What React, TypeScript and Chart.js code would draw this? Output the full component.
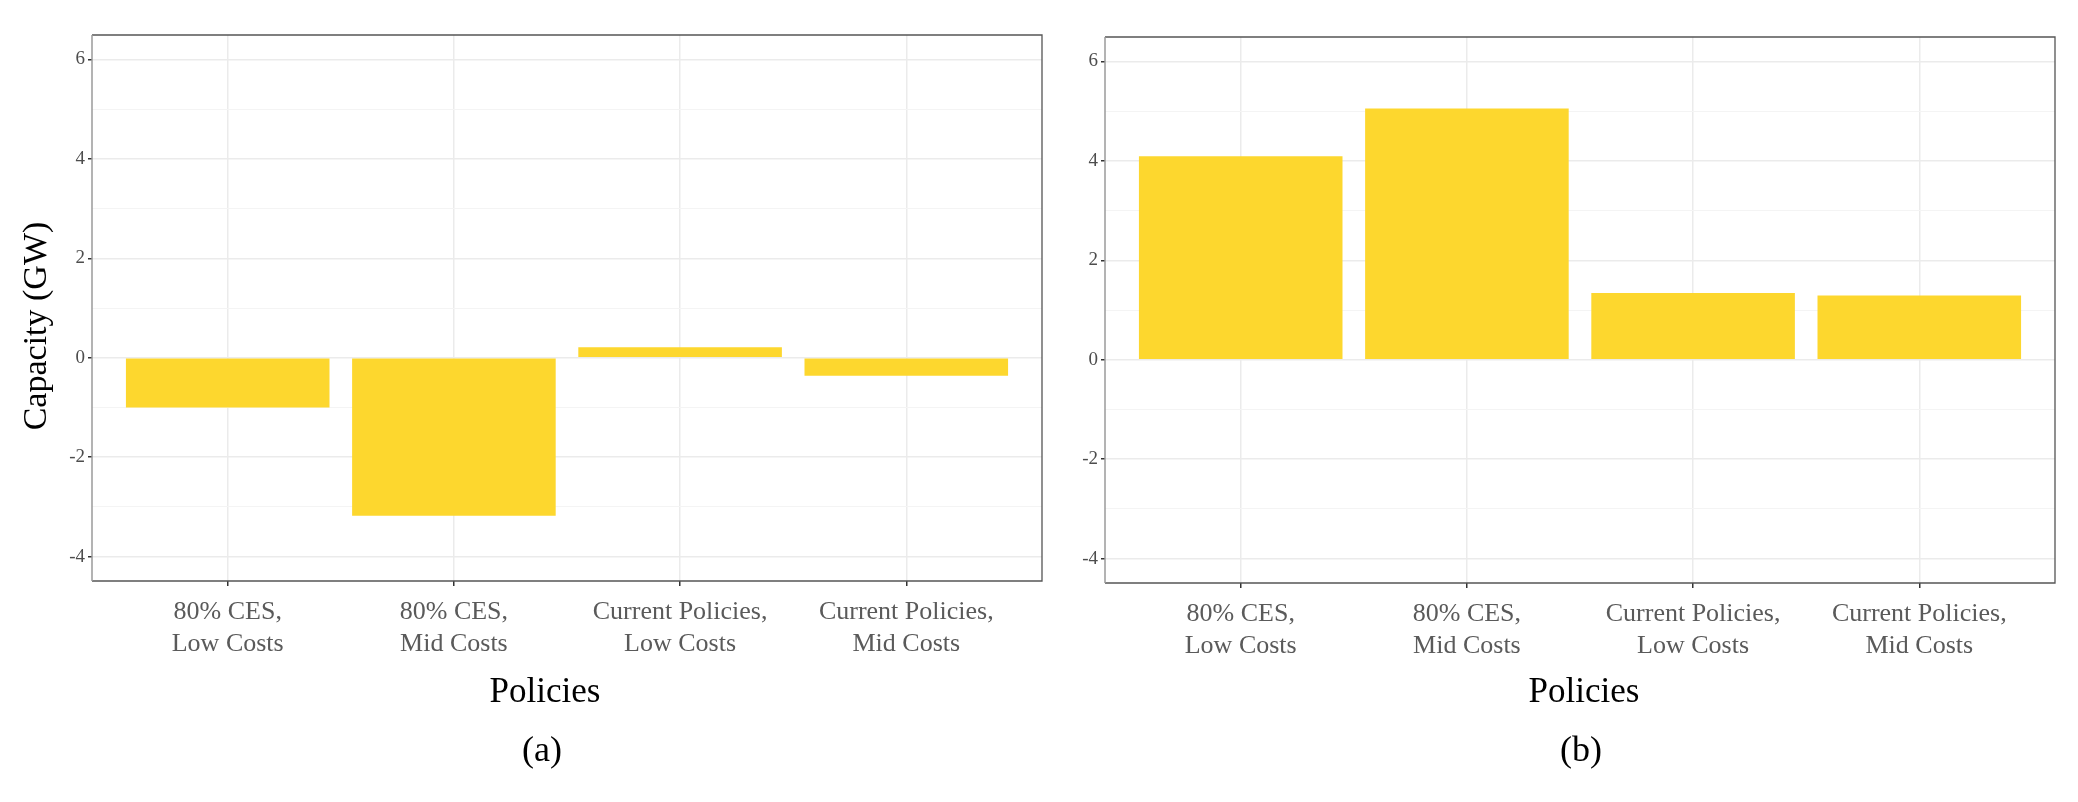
import { useEffect, useRef } from "react";
import { Chart, registerables, type ChartConfiguration } from "chart.js";

Chart.register(...registerables);

const categories = [
    ["80% CES,", "Low Costs"],
    ["80% CES,", "Mid Costs"],
    ["Current Policies,", "Low Costs"],
    ["Current Policies,", "Mid Costs"],
];
const valuesA = [-1.0, -3.18, 0.21, -0.36];
const valuesB = [4.09, 5.05, 1.34, 1.29];
const yTicks = [-4, -3, -2, -1, 0, 1, 2, 3, 4, 5, 6];

const SERIF = "'Liberation Serif', 'Times New Roman', serif";
const BAR = "#fdd72e";

interface PanelProps {
    values: number[];
    left: number;
    width: number;
    areaLeft: number;
    areaTop: number;
    areaRight: number;
    areaBottom: number;
    letter: string;
    yTitle?: string;
}

function Panel({ values, left, width, areaLeft, areaTop, areaRight, areaBottom, letter, yTitle }: PanelProps) {
    const chartRef = useRef<HTMLCanvasElement>(null);
    const height = 802;

    useEffect(() => {
        if (!chartRef.current) return;

        // panel border + titles, ggplot style
        const frame = {
            id: "frame",
            afterDraw(chart: any) {
                const { ctx, chartArea: a } = chart;
                ctx.save();
                ctx.lineWidth = 1.3;
                ctx.strokeStyle = "#555555";
                ctx.beginPath();
                ctx.moveTo(a.left, a.top);
                ctx.lineTo(a.right, a.top);
                ctx.lineTo(a.right, a.bottom);
                ctx.lineTo(a.left, a.bottom);
                ctx.stroke();
                ctx.strokeStyle = "#9a9a9a";
                ctx.lineWidth = 1.5;
                ctx.beginPath();
                ctx.moveTo(a.left, a.top);
                ctx.lineTo(a.left, a.bottom);
                ctx.stroke();

                ctx.fillStyle = "#000";
                ctx.textAlign = "center";
                ctx.textBaseline = "middle";
                ctx.font = `35px ${SERIF}`;
                ctx.fillText("Policies", width / 2 + 10, 693);
                ctx.font = `36px ${SERIF}`;
                ctx.fillText(letter, width / 2 + 7, 752);
                if (yTitle) {
                    ctx.translate(37, 326);
                    ctx.rotate(-Math.PI / 2);
                    ctx.font = `34px ${SERIF}`;
                    ctx.fillText(yTitle, 0, 0);
                }
                ctx.restore();
            },
        };

        const config = {
            type: "bar",
            data: {
                datasets: [{
                    data: values.map((v, i) => ({ x: i + 1, y: v })),
                    backgroundColor: BAR,
                    borderWidth: 0,
                    barPercentage: 0.9,
                    categoryPercentage: 1,
                }],
            },
            options: {
                responsive: false,
                animation: false,
                layout: {
                    padding: { top: areaTop, right: width - areaRight, left: 0, bottom: 0 },
                },
                plugins: {
                    legend: { display: false },
                    tooltip: { enabled: false },
                },
                scales: {
                    x: {
                        type: "linear",
                        min: 0.4,
                        max: 4.6,
                        offset: false,
                        afterBuildTicks: (s: any) => {
                            s.ticks = categories.map((_, i) => ({ value: i + 1 }));
                        },
                        afterFit: (s: any) => {
                            s.height = height - areaBottom;
                        },
                        border: { display: false },
                        grid: {
                            offset: false,
                            color: "#ebebeb",
                            lineWidth: 1.5,
                            tickLength: 5,
                            tickColor: "#333333",
                        },
                        ticks: {
                            callback: (v: number) => categories[Math.round(v) - 1],
                            color: "#5a5a5a",
                            font: { family: SERIF, size: 26, lineHeight: 1.2 },
                            padding: 11,
                            maxRotation: 0,
                            autoSkip: false,
                        },
                    },
                    y: {
                        min: -4.49,
                        max: 6.49,
                        afterBuildTicks: (s: any) => {
                            s.ticks = yTicks.map((v) => ({ value: v }));
                        },
                        afterFit: (s: any) => {
                            s.width = areaLeft;
                        },
                        border: { display: false },
                        grid: {
                            color: (c: any) => (c.tick && c.tick.value % 2 === 0 ? "#ebebeb" : "#f4f4f4"),
                            lineWidth: (c: any) => (c.tick && c.tick.value % 2 === 0 ? 1.5 : 1),
                            tickLength: 4,
                            tickColor: (c: any) => (c.tick && c.tick.value % 2 === 0 ? "#333333" : "rgba(0,0,0,0)"),
                        },
                        ticks: {
                            callback: (v: number) => (v % 2 === 0 ? String(v) : ""),
                            color: "#4d4d4d",
                            font: { family: SERIF, size: 19 },
                            padding: 3,
                        },
                    },
                },
            },
            plugins: [frame],
        };

        const chart = new Chart(chartRef.current, config as unknown as ChartConfiguration);
        return () => {
            chart.destroy();
        };
    }, []);

    return (
        <div style={{ position: "absolute", left, top: 0, width, height }}>
            <canvas ref={chartRef} width={width} height={height} style={{ width, height }}></canvas>
        </div>
    );
}

export default function App() {
    return (
        <div style={{ position: "absolute", left: 0, top: 0, width: 2078, height: 802, background: "#fff" }}>
            <Panel values={valuesA} left={0} width={1070} areaLeft={92} areaTop={35} areaRight={1042} areaBottom={581}
                letter="(a)" yTitle="Capacity (GW)" />
            <Panel values={valuesB} left={1070} width={1008} areaLeft={35} areaTop={37} areaRight={985} areaBottom={583}
                letter="(b)" />
        </div>
    );
}
